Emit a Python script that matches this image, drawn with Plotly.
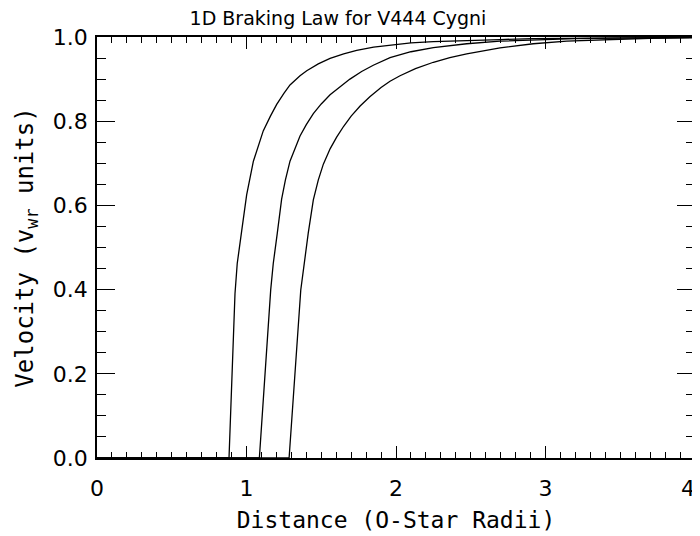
import plotly.graph_objects as go

# Curve data (distance in O-star radii, velocity in v_wr units)
dist_a = [0.0, 0.883, 0.923, 0.938, 0.968, 1.001, 1.046, 1.080, 1.112, 1.160, 1.202, 1.250,
          1.291, 1.358, 1.403, 1.480, 1.559, 1.650, 1.737, 1.850, 1.960, 2.100, 2.250, 2.473,
          2.696, 2.916, 3.200, 3.600, 4.000]
vel_a = [0.0, 0.0, 0.390, 0.462, 0.540, 0.625, 0.705, 0.745, 0.777, 0.812, 0.840, 0.866,
         0.886, 0.908, 0.920, 0.936, 0.949, 0.960, 0.968, 0.976, 0.981, 0.986, 0.989, 0.992,
         0.994, 0.996, 0.997, 0.998, 0.999]

dist_b = [0.0, 1.086, 1.162, 1.179, 1.206, 1.235, 1.260, 1.291, 1.358, 1.400, 1.447, 1.500,
          1.559, 1.620, 1.692, 1.770, 1.848, 1.960, 2.100, 2.250, 2.473, 2.696, 2.918, 3.200,
          3.600, 4.000]
vel_b = [0.0, 0.0, 0.400, 0.462, 0.534, 0.615, 0.660, 0.705, 0.765, 0.792, 0.818, 0.841,
         0.863, 0.881, 0.900, 0.918, 0.933, 0.951, 0.965, 0.975, 0.984, 0.990, 0.993, 0.996,
         0.998, 0.999]

dist_c = [0.0, 1.285, 1.363, 1.385, 1.413, 1.447, 1.480, 1.514, 1.560, 1.603, 1.650, 1.700,
          1.760, 1.825, 1.900, 1.960, 2.027, 2.130, 2.250, 2.360, 2.473, 2.696, 2.918, 3.142,
          3.400, 3.700, 4.000]
vel_c = [0.0, 0.0, 0.399, 0.462, 0.534, 0.613, 0.660, 0.698, 0.735, 0.762, 0.788, 0.812,
         0.836, 0.858, 0.880, 0.895, 0.908, 0.925, 0.940, 0.951, 0.960, 0.974, 0.984, 0.990,
         0.994, 0.997, 0.998]

x_ticks = [0, 1, 2, 3, 4]
x_labels = ["0", "1", "2", "3", "4\u00a0\u00a0"]
y_ticks = [0.0, 0.2, 0.4, 0.6, 0.8, 1.0]

FONT = "DejaVu Sans, sans-serif"
MONO = "DejaVu Sans Mono, monospace"

# The page body adds an 8px offset; the figure is sized to fill the rest of the window.
W, H = 692, 528

fig = go.Figure()
for xs, ys in [(dist_a, vel_a), (dist_b, vel_b), (dist_c, vel_c)]:
    fig.add_trace(go.Scatter(x=xs, y=ys, mode="lines",
                             line=dict(color="black", width=1.3),
                             showlegend=False, hoverinfo="skip"))

fig.update_layout(
    width=W, height=H,
    margin=dict(l=89, r=5, t=29, b=78, autoexpand=False),
    paper_bgcolor="white", plot_bgcolor="white",
    font=dict(family=FONT, color="black", size=20),
    title=dict(text="1D Braking Law for V444 Cygni", xref="paper", x=0.403,
               xanchor="center", yref="container", y=1 - 10 / H, yanchor="middle",
               font=dict(family=FONT, size=19, color="black")),
)
fig.update_xaxes(
    range=[0, 4], tickvals=x_ticks, ticktext=x_labels, automargin=False,
    ticklabeloverflow="allow",
    ticks="inside", ticklen=12, tickwidth=1, tickcolor="black",
    minor=dict(dtick=0.1, ticks="inside", ticklen=6, tickwidth=1, tickcolor="black"),
    showline=True, linecolor="black", linewidth=1.5, mirror="ticks",
    showgrid=False, zeroline=False,
    tickfont=dict(family=FONT, size=22), ticklabelstandoff=10,
    title=dict(text="Distance (O-Star Radii)", font=dict(family=MONO, size=23), standoff=12),
)
fig.update_yaxes(
    range=[0, 1], tickvals=y_ticks, ticktext=[f"{v:.1f}" for v in y_ticks], automargin=False,
    ticklabeloverflow="allow",
    ticks="inside", ticklen=18, tickwidth=1, tickcolor="black",
    minor=dict(dtick=0.05, ticks="inside", ticklen=9, tickwidth=1, tickcolor="black"),
    showline=True, linecolor="black", linewidth=1.5, mirror="ticks",
    showgrid=False, zeroline=False,
    tickfont=dict(family=FONT, size=22), ticklabelstandoff=3,
    title=dict(text="Velocity (v<sub>wr</sub> units)", font=dict(family=MONO, size=24), standoff=12),
)

fig.write_html("out.html")
